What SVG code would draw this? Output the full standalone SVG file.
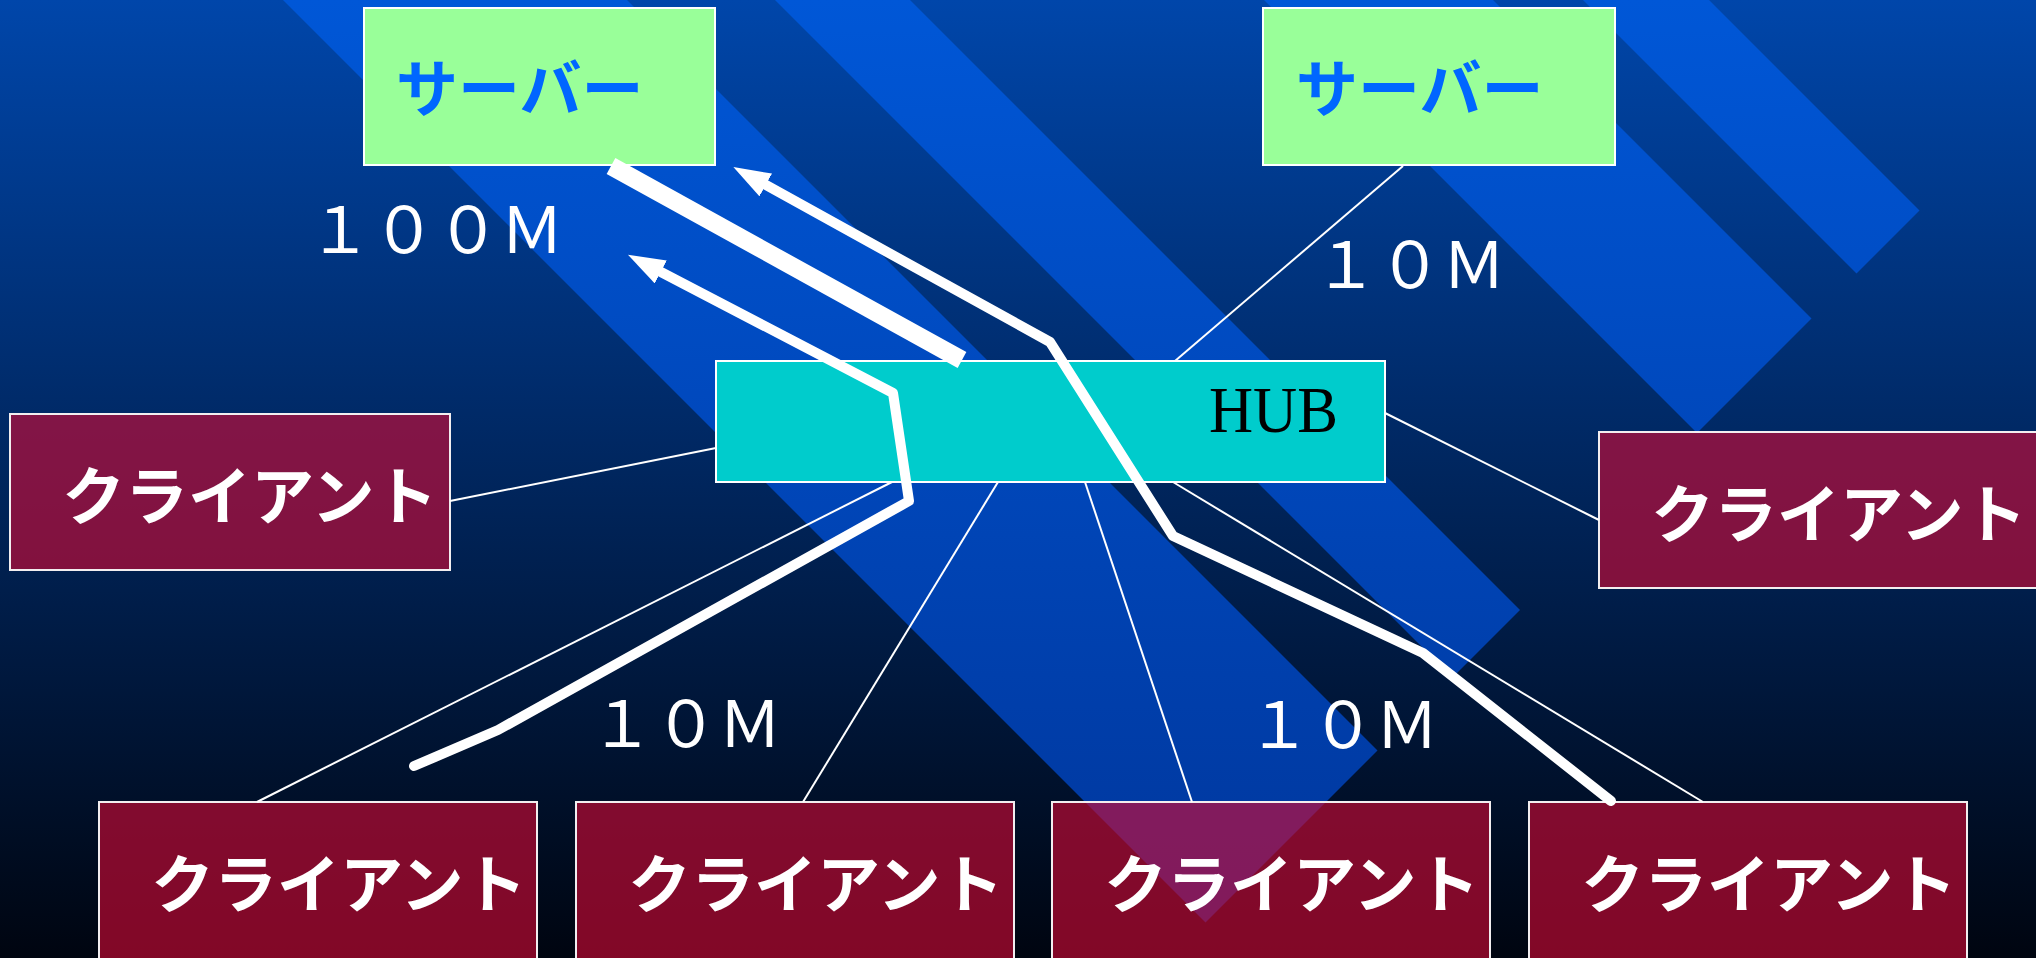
<svg xmlns="http://www.w3.org/2000/svg" width="2036" height="958" viewBox="0 0 2036 958">
<defs>
<linearGradient id="bg" x1="0" y1="0" x2="0" y2="958" gradientUnits="userSpaceOnUse">
<stop offset="0" stop-color="#0046aa"/>
<stop offset="1" stop-color="#000510"/>
</linearGradient>
<linearGradient id="band" x1="0" y1="0" x2="0" y2="958" gradientUnits="userSpaceOnUse">
<stop offset="0" stop-color="#0057d7"/>
<stop offset="1" stop-color="#00359a"/>
</linearGradient>
<marker id="head" markerUnits="userSpaceOnUse" markerWidth="44" markerHeight="32" refX="2" refY="13" orient="auto">
<path d="M0,0 L37,13 L0,26 Z" fill="#ffffff"/>
</marker>
<style>
.srv{fill:#99ff99;stroke:#ffffff;stroke-width:2}
.hub{fill:#00cccc;stroke:#ffffff;stroke-width:2}
.cli{fill:#ce0a34;fill-opacity:0.63;stroke:#f2eef0;stroke-width:2}
.band{fill:url(#band)}
.jp{font-family:"Noto Sans CJK JP","Noto Sans CJK SC",sans-serif}
.srvt{font-size:62px;font-weight:bold;fill:#0066ff}
.clit{font-size:63px;font-weight:bold;fill:#ffffff}
.lbl{font-size:64px;fill:#ffffff}
.thin{stroke:#ffffff;stroke-width:2;fill:none}
.thick{stroke:#ffffff;fill:none;stroke-linejoin:round;stroke-linecap:round;stroke-width:10}
</style>
</defs>
<rect x="0" y="0" width="2036" height="958" fill="url(#bg)"/>
<g id="bands">
<polygon class="band" points="283,0 627,0 1377.5,750.5 1205.5,922.5"/>
<polygon class="band" points="775,0 910,0 1520,610 1452.5,677.5"/>
<polygon class="band" points="1264,0 1493,0 1811.5,318.5 1697,433"/>
<polygon class="band" points="1583,0 1709,0 1919.5,210.5 1856.5,273.5"/>
</g>
<g id="server1"><rect class="srv" x="364" y="8" width="351" height="157"/><text class="jp srvt" x="396" y="112">サーバー</text></g>
<g id="server2"><rect class="srv" x="1263" y="8" width="352" height="157"/><text class="jp srvt" x="1296" y="112">サーバー</text></g>
<g id="hub"><rect class="hub" x="716" y="361" width="669" height="121"/><text x="1209" y="432" font-family="Liberation Serif, serif" font-size="65" fill="#000000" textLength="129" lengthAdjust="spacingAndGlyphs">HUB</text></g>
<g id="client-left"><rect class="cli" x="10" y="414" width="440" height="156"/><text class="jp clit" x="62" y="519">クライアント</text></g>
<g id="client-right"><rect class="cli" x="1599" y="432" width="440" height="156"/><text class="jp clit" x="1651" y="537">クライアント</text></g>
<g id="client-1"><rect class="cli" x="99" y="802" width="438" height="160"/><text class="jp clit" x="151" y="907">クライアント</text></g>
<g id="client-2"><rect class="cli" x="576" y="802" width="438" height="160"/><text class="jp clit" x="628" y="907">クライアント</text></g>
<g id="client-3"><rect class="cli" x="1052" y="802" width="438" height="160"/><text class="jp clit" x="1104" y="907">クライアント</text></g>
<g id="client-4"><rect class="cli" x="1529" y="802" width="438" height="160"/><text class="jp clit" x="1581" y="907">クライアント</text></g>
<g id="connectors">
<line class="thin" x1="1403" y1="166" x2="1175" y2="361"/>
<line class="thin" x1="450" y1="501" x2="716" y2="448"/>
<line class="thin" x1="1385" y1="413" x2="1599" y2="520"/>
<line class="thin" x1="892" y1="482" x2="257" y2="802"/>
<line class="thin" x1="998" y1="482" x2="803" y2="802"/>
<line class="thin" x1="1085" y1="482" x2="1192" y2="802"/>
<line class="thin" x1="1173" y1="482" x2="1703" y2="802"/>
<line x1="611" y1="166" x2="962" y2="360" stroke="#ffffff" stroke-width="18"/>
<path class="thick" d="M1611,801 L1423,653 L1173,536 L1050,342 L764,184" marker-end="url(#head)"/>
<path class="thick" d="M414,766 L498,730 L909,501 L893,393 L659,271" marker-end="url(#head)"/>
</g>
<g id="labels">
<text class="jp lbl" x="308" y="253">１００Ｍ</text>
<text class="jp lbl" x="1314" y="288">１０Ｍ</text>
<text class="jp lbl" x="590" y="747">１０Ｍ</text>
<text class="jp lbl" x="1247" y="748">１０Ｍ</text>
</g>
</svg>
